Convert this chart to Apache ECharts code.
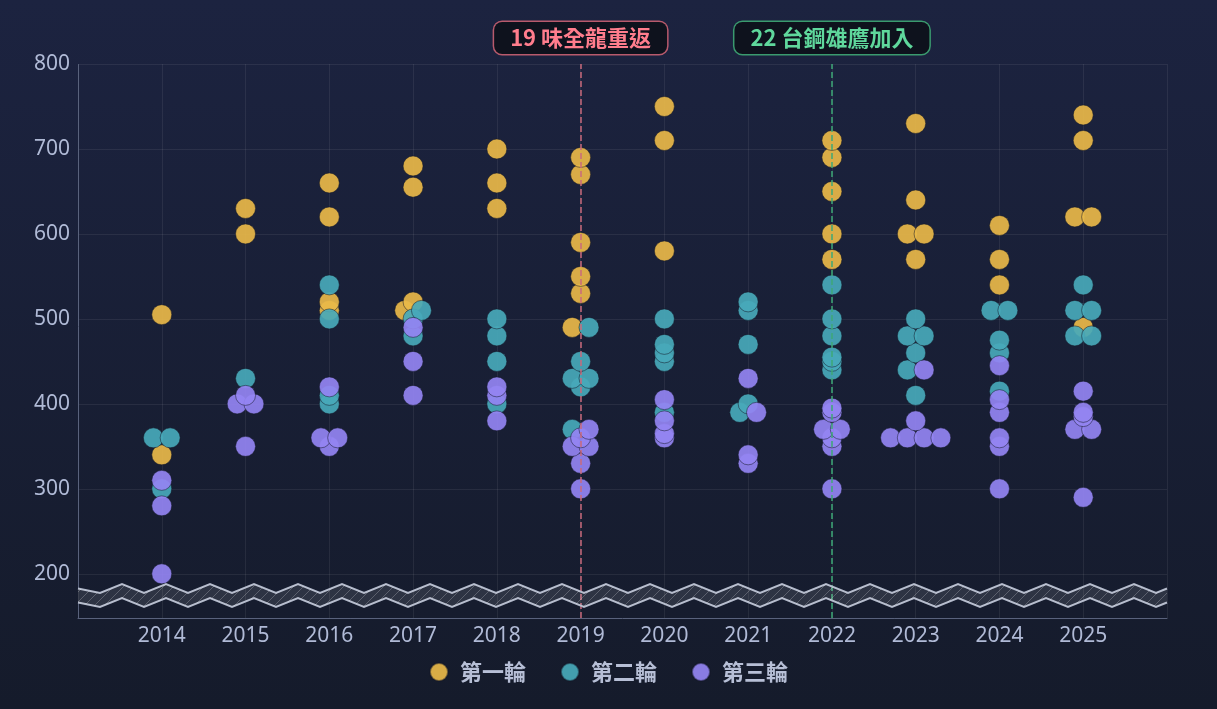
<!DOCTYPE html>
<html lang="zh-Hant">

<head>
    <meta charset="UTF-8">
    <title>選秀輪次散點</title>
    <style>
        html, body { margin: 0; padding: 0; background: #171d30; }
        #chart { width: 1217px; height: 709px; }
    </style>
</head>

<body>
    <div id="chart"></div>

    <script src="https://cdn.jsdelivr.net/npm/echarts@6/dist/echarts.min.js"></script>
    <script>
        const years = [2014, 2015, 2016, 2017, 2018, 2019, 2020, 2021, 2022, 2023, 2024, 2025]
        const seriesNames = ['第一輪', '第二輪', '第三輪']
        const yTicks = [200, 300, 400, 500, 600, 700, 800]

        // 每年每輪的數值
        const round1 = [
            [505, 340], [630, 600], [660, 620, 520, 510], [680, 655, 520, 510],
            [700, 660, 630], [690, 670, 590, 550, 530, 490], [750, 710, 580], [],
            [710, 690, 650, 600, 570], [730, 640, 600, 600, 570], [610, 570, 540],
            [740, 710, 620, 620, 490]
        ]
        const round2 = [
            [360, 360, 300], [430], [540, 500, 410, 400], [510, 500, 480],
            [500, 480, 450, 400], [490, 450, 430, 430, 420, 370], [500, 470, 460, 450, 390],
            [520, 510, 470, 400, 390], [540, 500, 480, 455, 450, 440],
            [500, 480, 480, 460, 440, 410], [510, 510, 475, 460, 415],
            [540, 510, 510, 480, 480]
        ]
        const round3 = [
            [310, 280, 200], [410, 400, 400, 350], [420, 360, 360, 350], [490, 450, 410],
            [420, 410, 380], [370, 360, 350, 350, 330, 300], [405, 380, 365, 360],
            [430, 390, 340, 330], [395, 390, 370, 370, 360, 350, 300],
            [440, 380, 360, 360, 360, 360], [445, 405, 390, 360, 350, 300],
            [415, 390, 385, 370, 370, 290]
        ]

        const events = [
            { year: 2019, text: '19 味全龍重返' },
            { year: 2022, text: '22 台鋼雄鷹加入' }
        ]

        const colors = ['#e9b949', '#48a9ba', '#9484f2']
        const rounds = [round1, round2, round3]

        // 同一年同數值的點左右散開
        const step = 0.2
        const points = [[], [], []]
        years.forEach(function (year, yi) {
            const groups = {}
            rounds.forEach(function (r, si) {
                r[yi].forEach(function (v) {
                    if (!groups[v]) groups[v] = []
                    groups[v].push(si)
                })
            })
            Object.keys(groups).forEach(function (v) {
                const g = groups[v]
                const n = g.length
                g.forEach(function (si, i) {
                    points[si].push([year + (i - (n - 1) / 2) * step, Number(v)])
                })
            })
        })

        // 斷軸區域的斜紋
        const hatch = document.createElement('canvas')
        hatch.width = 10
        hatch.height = 10
        const hctx = hatch.getContext('2d')
        hctx.fillStyle = 'rgba(255,255,255,0.10)'
        hctx.fillRect(0, 0, 10, 10)
        hctx.strokeStyle = 'rgba(255,255,255,0.22)'
        hctx.lineWidth = 1
        hctx.beginPath()
        hctx.moveTo(0, 10)
        hctx.lineTo(10, 0)
        hctx.stroke()

        const myChart = echarts.init(document.getElementById('chart'))

        const labelColors = [
            { line: '#c96a7c', text: '#ff7d8d', border: '#b85a6c' },
            { line: '#3ea877', text: '#5fd89c', border: '#3a9a6e' }
        ]

        const option = {
            backgroundColor: new echarts.graphic.LinearGradient(0, 0, 0, 1, [
                { offset: 0, color: '#1c2340' },
                { offset: 1, color: '#151b2b' }
            ]),
            textStyle: {
                fontFamily: '"Noto Sans", "Noto Sans CJK TC", sans-serif'
            },
            grid: {
                left: 78,
                right: 50,
                top: 64,
                bottom: 91
            },
            legend: {
                bottom: 21,
                icon: 'circle',
                itemWidth: 18,
                itemHeight: 18,
                itemGap: 34,
                textStyle: {
                    color: '#b7bfd6',
                    fontSize: 22,
                    fontWeight: 'bold',
                    padding: [0, 0, 0, 7],
                    fontFamily: '"Noto Sans CJK TC", sans-serif'
                },
                data: seriesNames
            },
            xAxis: {
                type: 'value',
                min: 2013,
                max: 2026,
                interval: 1,
                axisLine: { lineStyle: { color: '#59627c' } },
                axisTick: { show: false },
                axisLabel: {
                    color: '#b0bad6',
                    fontSize: 21,
                    margin: 8,
                    formatter: function (v) {
                        return (v > 2013 && v < 2026) ? String(v) : ''
                    }
                },
                splitLine: { lineStyle: { color: 'rgba(255,255,255,0.07)' } }
            },
            yAxis: {
                type: 'value',
                min: 0,
                max: 800,
                interval: 100,
                breaks: [{ start: 19, end: 183, gap: 16 }],
                breakArea: {
                    show: true,
                    expandOnClick: false,
                    zigzagAmplitude: 4.5,
                    zigzagMinSpan: 22,
                    zigzagMaxSpan: 22,
                    itemStyle: {
                        color: { image: hatch, repeat: 'repeat' },
                        borderColor: '#b3bacb',
                        borderWidth: 2,
                        borderType: 'solid',
                        opacity: 1
                    }
                },
                axisLine: { show: true, lineStyle: { color: '#59627c' } },
                axisTick: { show: false, customValues: yTicks },
                axisLabel: {
                    color: '#b0bad6',
                    fontSize: 21,
                    margin: 8,
                    customValues: yTicks
                },
                splitLine: { lineStyle: { color: 'rgba(255,255,255,0.07)' } }
            },
            series: seriesNames.map(function (name, si) {
                const s = {
                    name: name,
                    type: 'scatter',
                    data: points[si],
                    symbolSize: 20,
                    itemStyle: {
                        color: colors[si],
                        opacity: 0.92,
                        borderColor: 'rgba(20,24,40,0.55)',
                        borderWidth: 1
                    }
                }
                if (si === 0) {
                    s.markLine = {
                        silent: true,
                        symbol: ['none', 'none'],
                        data: events.map(function (e, ei) {
                            return {
                                xAxis: e.year,
                                lineStyle: {
                                    color: labelColors[ei].line,
                                    type: 'dashed',
                                    width: 1.5
                                },
                                label: {
                                    show: true,
                                    position: 'end',
                                    distance: 10,
                                    formatter: e.text,
                                    color: labelColors[ei].text,
                                    fontSize: 22,
                                    fontWeight: 'bold',
                                    fontFamily: '"Noto Sans CJK TC", sans-serif',
                                    backgroundColor: '#0e121d',
                                    borderColor: labelColors[ei].border,
                                    borderWidth: 1.5,
                                    borderRadius: 8,
                                    padding: [5, 16]
                                }
                            }
                        })
                    }
                }
                return s
            })
        }

        myChart.setOption(option)
    </script>
</body>

</html>
